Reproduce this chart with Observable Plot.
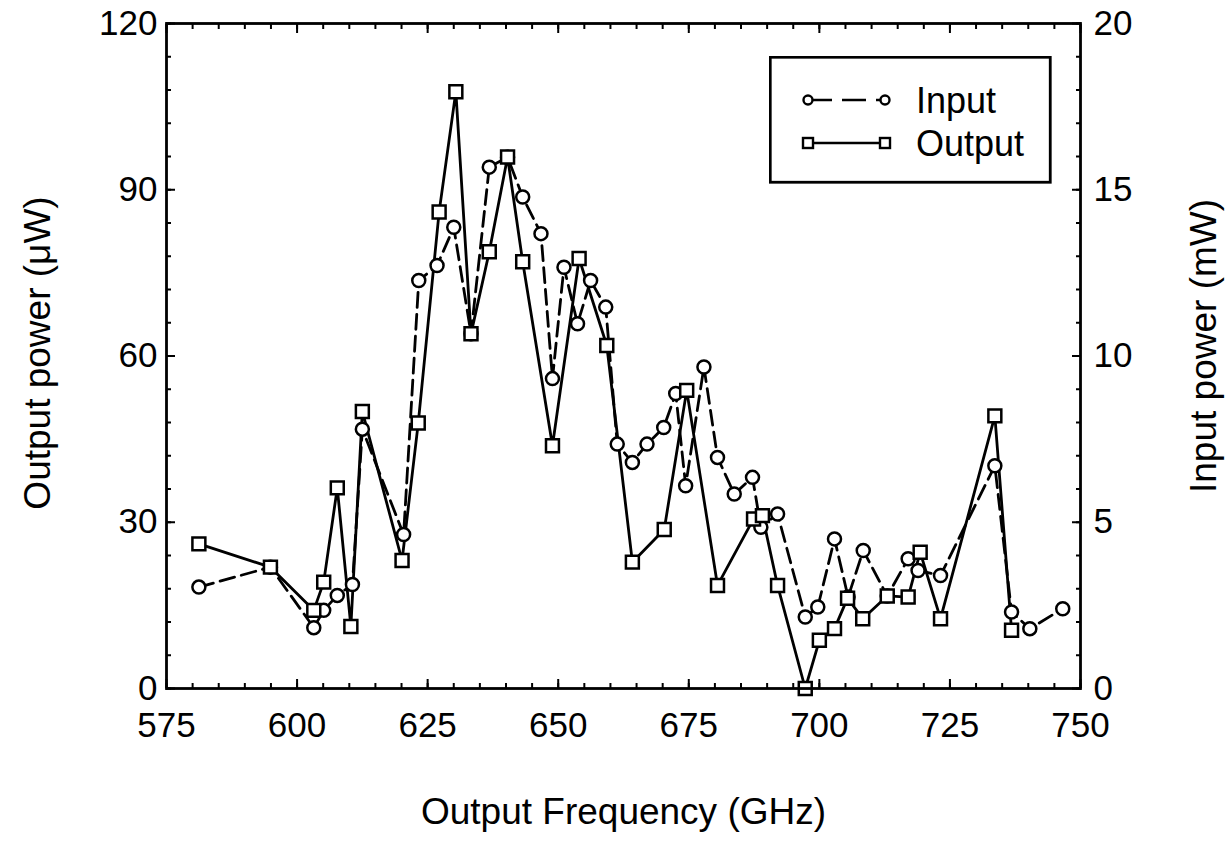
<!DOCTYPE html>
<html><head><meta charset="utf-8">
<script src="https://cdn.jsdelivr.net/npm/d3@7"></script>
<script src="https://cdn.jsdelivr.net/npm/@observablehq/plot@0.6"></script>
<style>
body{margin:0;background:#fff;}
#wrap{position:relative;width:1228px;height:847px;font-family:"Liberation Sans",Arial,sans-serif;}
#legend{position:absolute;left:769px;top:56px;}
</style></head><body><div id="wrap"></div>
<script>
// Output series (squares, left axis, µW)
const outFreq = [581.2,594.9,603.2,605.1,607.7,610.3,612.5,620.1,623.2,627.2,630.4,633.3,636.8,640.3,643.2,648.9,654.0,659.3,664.2,670.3,674.6,680.5,687.4,689.1,692.0,697.3,700.0,702.9,705.4,708.3,713.0,717.0,719.3,723.2,733.6,736.8];
const outPower = [26.1,21.9,14.1,19.2,36.2,11.2,50.0,23.1,47.9,86.0,107.7,64.0,78.8,95.9,77.0,43.8,77.6,61.9,22.8,28.7,53.8,18.6,30.6,31.2,18.6,0,8.7,10.8,16.3,12.6,16.7,16.5,24.6,12.6,49.2,10.5];
// Input series (circles, right axis, mW)
const inFreq = [581.2,594.9,603.2,605.1,607.7,610.6,612.5,620.4,623.3,626.8,630.0,633.3,636.8,640.3,643.2,646.7,648.9,651.1,653.7,656.2,659.1,661.3,664.2,667.0,670.2,672.5,674.4,677.9,680.5,683.7,687.2,688.8,692.0,697.3,699.7,702.9,705.5,708.4,713.0,717.0,718.9,723.2,733.6,736.8,740.3,746.6];
const inPower = [3.05,3.65,1.83,2.35,2.80,3.13,7.80,4.63,12.27,12.72,13.87,10.67,15.68,15.98,14.78,13.68,9.32,12.67,10.97,12.27,11.47,7.35,6.80,7.35,7.85,8.87,6.10,9.67,6.95,5.85,6.35,4.85,5.25,2.15,2.45,4.50,2.75,4.15,2.78,3.90,3.55,3.40,6.70,2.30,1.80,2.40];

const xTicks = [575,600,625,650,675,700,725,750];
const leftTicks = [0,30,60,90,120];
const rightTicks = [0,5,10,15,20];
const seriesNames = ["Input","Output"];
const xTitle = "Output Frequency (GHz)";
const leftTitle = "Output power (\u03BCW)";
const rightTitle = "Input power (mW)";

const k = leftTicks[leftTicks.length-1] / rightTicks[rightTicks.length-1];
const output = outFreq.map((f,i)=>({f, p: outPower[i]}));
const input = inFreq.map((f,i)=>({f, p: inPower[i]*k}));
const xMinor = d3.range(xTicks[0], xTicks[xTicks.length-1] + 0.01, 5);
const yMinor = d3.range(0, leftTicks[leftTicks.length-1] + 0.01, 6);
const font = "Liberation Sans, Arial, sans-serif";
const SW = 2.8;
const MW = 2.5;
const FS = 35;

const chart = Plot.plot({
  width: 1228, height: 847,
  marginLeft: 166, marginRight: 148, marginTop: 23, marginBottom: 159,
  x: {domain: [xTicks[0], xTicks[xTicks.length-1]], label: null},
  y: {domain: [0, leftTicks[leftTicks.length-1]], label: null},
  style: {fontFamily: font, fontSize: FS + "px", color: "black", background: "white", overflow: "visible"},
  marks: [
    Plot.line(input, {x: "f", y: "p", stroke: "black", strokeWidth: SW, strokeDasharray: "15,7"}),
    Plot.line(output, {x: "f", y: "p", stroke: "black", strokeWidth: SW}),
    Plot.dot(input, {x: "f", y: "p", r: 6.5, symbol: "circle", stroke: "black", fill: "white", strokeWidth: MW}),
    Plot.dot(output, {x: "f", y: "p", r: 7.3, symbol: "square", stroke: "black", fill: "white", strokeWidth: MW}),
    Plot.frame({stroke: "black", strokeWidth: SW}),
    // tick labels
    Plot.axisX(xTicks, {anchor: "bottom", tickSize: 0, tickPadding: 24, fontSize: FS, label: null}),
    Plot.axisY(leftTicks, {anchor: "left", tickSize: 0, tickPadding: 9, fontSize: FS, label: null}),
    Plot.axisY(leftTicks, {anchor: "right", tickSize: 0, tickPadding: 13, fontSize: FS, label: null, tickFormat: d => String(d / k)}),
    // inward ticks
    Plot.axisX(xTicks, {anchor: "bottom", tickSize: -9, fill: "none", strokeWidth: 2, label: null}),
    Plot.axisX(xTicks, {anchor: "top", tickSize: -9, fill: "none", strokeWidth: 2, label: null}),
    Plot.axisX(xMinor, {anchor: "bottom", tickSize: -5, fill: "none", strokeWidth: 2, label: null}),
    Plot.axisX(xMinor, {anchor: "top", tickSize: -5, fill: "none", strokeWidth: 2, label: null}),
    Plot.axisY(leftTicks, {anchor: "left", tickSize: -9, fill: "none", strokeWidth: 2, label: null}),
    Plot.axisY(leftTicks, {anchor: "right", tickSize: -9, fill: "none", strokeWidth: 2, label: null}),
    Plot.axisY(yMinor, {anchor: "left", tickSize: -5, fill: "none", strokeWidth: 2, label: null}),
    Plot.axisY(yMinor, {anchor: "right", tickSize: -5, fill: "none", strokeWidth: 2, label: null}),
    // axis titles
    Plot.text([xTitle], {frameAnchor: "bottom", dy: 124, textAnchor: "middle", lineAnchor: "middle", fontSize: 37, fill: "black"}),
    Plot.text([leftTitle], {frameAnchor: "left", dx: -128, dy: -3, rotate: -90, textAnchor: "middle", lineAnchor: "middle", fontSize: 37, fill: "black"}),
    Plot.text([rightTitle], {frameAnchor: "right", dx: 124, dy: -10, rotate: -90, textAnchor: "middle", lineAnchor: "middle", fontSize: 37, fill: "black"})
  ]
});
document.getElementById("wrap").appendChild(chart);

// Legend (inside plot area, top right)
const lg = d3.select("#wrap").append("svg").attr("id", "legend")
  .attr("width", 284).attr("height", 130);
lg.append("rect").attr("x", 1.25).attr("y", 1.25).attr("width", 280).attr("height", 125)
  .attr("fill", "white").attr("stroke", "black").attr("stroke-width", SW);
seriesNames.forEach((name, i) => {
  const y = 44 + i * 43;
  const g = lg.append("g");
  g.append("line").attr("x1", 39).attr("x2", 116).attr("y1", y).attr("y2", y)
    .attr("stroke", "black").attr("stroke-width", 2.4)
    .attr("stroke-dasharray", name === "Input" ? "24,10" : null);
  [39, 116].forEach(cx => {
    if (name === "Input") {
      g.append("circle").attr("cx", cx).attr("cy", y).attr("r", 4.5)
        .attr("fill", "white").attr("stroke", "black").attr("stroke-width", 2.4);
    } else {
      g.append("rect").attr("x", cx - 5).attr("y", y - 5).attr("width", 10).attr("height", 10)
        .attr("fill", "white").attr("stroke", "black").attr("stroke-width", 2.4);
    }
  });
  g.append("text").attr("x", 147).attr("y", y).attr("dy", "0.36em")
    .attr("font-family", font).attr("font-size", 36).attr("fill", "black").text(name);
});
</script></body></html>
